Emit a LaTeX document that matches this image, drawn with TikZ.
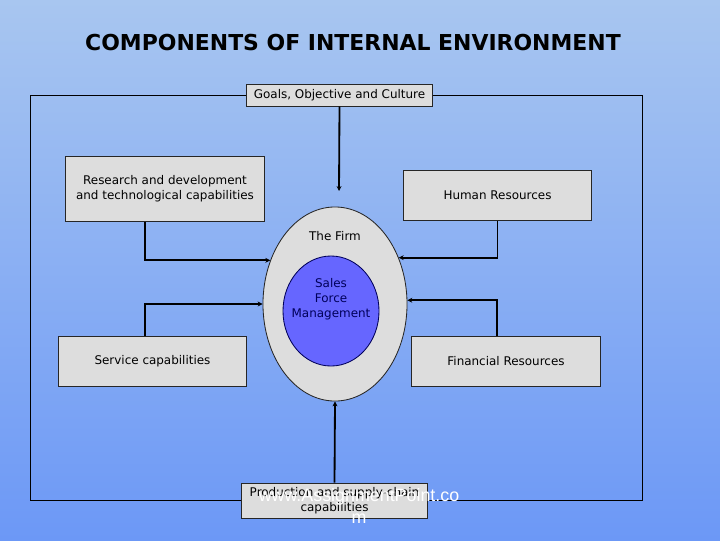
\documentclass[tikz,border=0pt]{standalone}
\usepackage{fontspec}
\setmainfont{DejaVu Sans}
\setsansfont{Liberation Sans}
\usetikzlibrary{shapes.geometric,arrows.meta}
\definecolor{skytop}{RGB}{168,198,240}
\definecolor{skymid}{RGB}{150,186,242}
\definecolor{skybot}{RGB}{108,152,246}
\definecolor{boxgray}{RGB}{221,221,221}
\definecolor{sfmblue}{RGB}{102,102,255}
\definecolor{navy}{RGB}{0,0,90}
\begin{document}
\begin{tikzpicture}[x=0.025cm, y=-0.025cm,
  every node/.style={font=\fontsize{8.5}{10.6}\selectfont},
  box/.style={draw=black!85,fill=boxgray,line width=0.7pt,minimum height=1.25cm,inner sep=0pt,align=center},
  link/.style={line width=1.3pt,-{Stealth[length=3.5pt,width=3.5pt]}},
  fbloop/.style={line width=0.7pt}]
% sky
\shade[top color=skytop, middle color=skymid, bottom color=skybot] (0,0) rectangle (720,540);
\useasboundingbox (0,0) rectangle (720,540);
\node[font=\fontsize{15.6}{18}\selectfont\bfseries] (title) at (353,43) {COMPONENTS OF INTERNAL ENVIRONMENT};
% the firm
\node[ellipse,draw=black!85,fill=boxgray,line width=0.6pt,minimum width=3.6cm,minimum height=4.85cm] (firm) at (335,304) {};
\node[ellipse,draw=navy,fill=sfmblue,line width=0.6pt,minimum width=2.4cm,minimum height=2.75cm] (sfm) at (331,311) {};
\node (firmlbl) at (335,236) {The Firm};
\node[align=center,text=navy] (sfmlbl) at (331,299) {Sales\\Force\\Management};
% components
\node[box,minimum width=4.625cm,minimum height=0.55cm] (goals) at (339.5,95) {Goals, Objective and Culture};
\node[box,minimum width=4.95cm,minimum height=1.625cm] (rnd) at (165,188.5) {Research and development\\and technological capabilities};
\node[box,minimum width=4.675cm] (hr) at (497.5,195) {Human Resources};
\node[box,minimum width=4.675cm] (svc) at (152.5,361) {Service capabilities};
\node[box,minimum width=4.7cm] (fin) at (506,361) {Financial Resources};
\node[box,minimum width=4.625cm,minimum height=0.875cm] (prod) at (334.5,500.5) {Production and supply-chain\\capabilities};
% arrows into the firm
\coordinate (gtip) at (339,191);
\draw[link] (goals.south) -- (gtip);
\draw[link] ([xshift=-0.5cm]rnd.south) |- (firm.146);
\draw[link] (hr.south) |- (firm.36);
\draw[link] ([xshift=-0.19cm]svc.north) |- (firm.west);
\draw[link] ([xshift=-0.225cm]fin.north) |- (firm.3);
\draw[link] (prod.north) -- (firm.south);
% outer loop
\coordinate (lside) at (30,0);
\coordinate (rside) at (642,0);
\draw[fbloop] (goals.west) -| (lside |- prod.west) -- (prod.west);
\draw[fbloop] (goals.east) -| (rside |- prod.east) -- (prod.east);
% watermark
\node[font=\sffamily\fontsize{12.7}{16}\selectfont,text=white,align=center] (wm) at (359,506) {www.AssignmentPoint.co\\m};
\end{tikzpicture}
\end{document}
